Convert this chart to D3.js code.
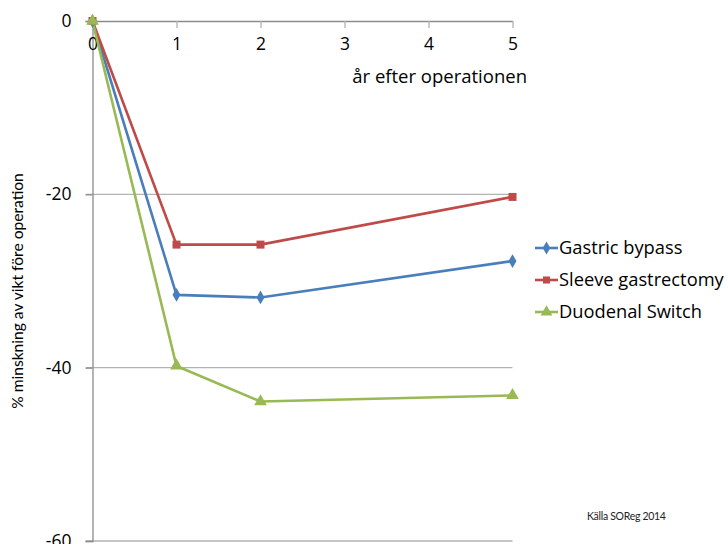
<!DOCTYPE html>
<html><head><meta charset="utf-8">
<script src="https://cdn.jsdelivr.net/npm/d3@7"></script>
<style>body{margin:0;background:#fff}svg{display:block}</style>
</head><body>
<svg id="c" width="728" height="544"></svg>
<script>
const years = [0, 1, 2, 5];
const xTicks = [0, 1, 2, 3, 4, 5];
const yTicks = [0, -20, -40, -60];
const seriesNames = ["Gastric bypass", "Sleeve gastrectomy", "Duodenal Switch"];
const gastricBypass = [0, -31.6, -31.9, -27.7];
const sleeveGastrectomy = [0, -25.8, -25.8, -20.3];
const duodenalSwitch = [0, -39.8, -43.9, -43.2];
const colors = ["#4a7ebb", "#be4b48", "#98b954"];
const markers = [d3.symbolDiamond, d3.symbolSquare, d3.symbolTriangle];
const xTitle = "år efter operationen";
const yTitle = "% minskning av vikt före operation";
const source = "Källa SOReg 2014";

const font = "'Open Sans', Lato, sans-serif";
const font2 = "Lato, 'Open Sans', sans-serif";
const svg = d3.select("#c");
const x = d3.scaleLinear().domain([0, 5]).range([92.5, 512.5]);
const y = d3.scaleLinear().domain([0, -60]).range([21, 541]);
const fmt = d => String(d);

// gridlines
svg.append("g").selectAll("line").data([-20, -40, -60]).join("line")
  .attr("x1", 86).attr("x2", 512.5).attr("y1", d => y(d)).attr("y2", d => y(d))
  .attr("stroke", "#b3b3b3").attr("stroke-width", 1.3);

// y axis
const yAxis = svg.append("g").attr("transform", `translate(${x(0)},0)`)
  .call(d3.axisLeft(y).tickValues(yTicks).tickSize(7).tickPadding(14).tickFormat(fmt));
yAxis.select(".domain").attr("stroke", "#8c8c8c").attr("stroke-width", 1.3);
yAxis.selectAll(".tick line").attr("stroke", "#8c8c8c").attr("stroke-width", 1.3);
yAxis.selectAll("text").attr("font-family", font).attr("font-size", 17.5).attr("fill", "#000");

// x axis at y=0
const xAxis = svg.append("g").attr("transform", `translate(0,${y(0)})`)
  .call(d3.axisBottom(x).tickValues(xTicks).tickSize(7).tickPadding(10).tickSizeOuter(0).tickFormat(fmt));
xAxis.select(".domain").attr("stroke", "#8c8c8c").attr("stroke-width", 1.3);
xAxis.selectAll(".tick line").attr("stroke", "#b3b3b3").attr("stroke-width", 1.3);
xAxis.selectAll("text").attr("font-family", font).attr("font-size", 17.5).attr("fill", "#000");

// series
const data = [gastricBypass, sleeveGastrectomy, duodenalSwitch];
const line = d3.line().x((d, i) => x(years[i])).y(d => y(d));
data.forEach((vals, k) => {
  svg.append("path").datum(vals).attr("d", line)
    .attr("fill", "none").attr("stroke", colors[k]).attr("stroke-width", 2.6);
});
data.forEach((vals, k) => {
  const size = k === 2 ? 70 : (k === 0 ? 55 : 64);
  svg.append("g").selectAll("path").data(vals).join("path")
    .attr("transform", (d, i) => `translate(${x(years[i])},${y(d)})`)
    .attr("d", d3.symbol().type(markers[k]).size(size))
    .attr("fill", colors[k]);
});

// axis titles
svg.append("text").attr("x", 527).attr("y", 83).attr("text-anchor", "end")
  .attr("font-family", font).attr("font-size", 18.5).text(xTitle);
svg.append("text").attr("transform", "translate(23,291) rotate(-90)").attr("text-anchor", "middle")
  .attr("font-family", font2).attr("font-size", 15.6).text(yTitle);

// legend
const lg = svg.append("g");
seriesNames.forEach((name, k) => {
  const ly = 248 + k * 32;
  lg.append("line").attr("x1", 535).attr("x2", 558).attr("y1", ly).attr("y2", ly)
    .attr("stroke", colors[k]).attr("stroke-width", 2.6);
  lg.append("path").attr("transform", `translate(546.5,${ly})`)
    .attr("d", d3.symbol().type(markers[k]).size(k === 2 ? 60 : 50)).attr("fill", colors[k]);
  lg.append("text").attr("x", 559).attr("y", ly).attr("dy", "0.35em")
    .attr("font-family", font).attr("font-size", 18.3).text(name);
});

svg.append("text").attr("x", 587).attr("y", 520).attr("font-family", font2)
  .attr("font-size", 10.5).attr("fill", "#222").attr("letter-spacing", -0.3).text(source);
</script>
</body></html>
